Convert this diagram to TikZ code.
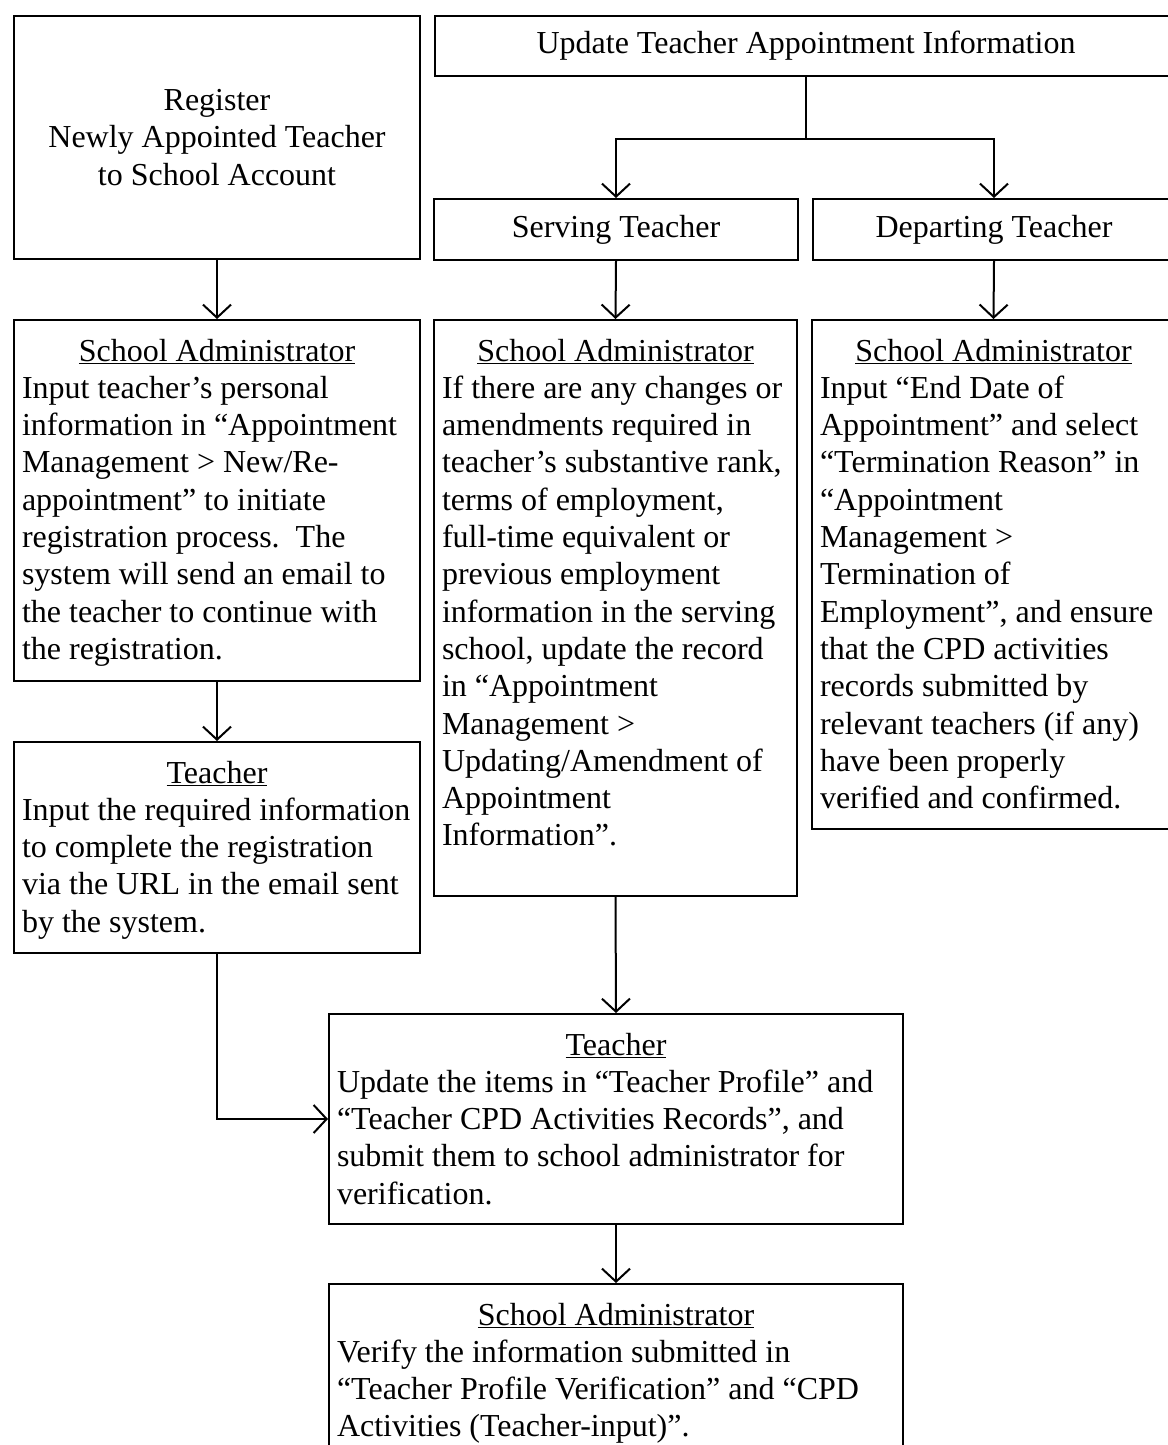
\documentclass[tikz,border=0pt]{standalone}
\usepackage{fontspec}
\setmainfont{Liberation Serif}
\usetikzlibrary{arrows.meta}
\newcommand{\cardtext}[3]{\parbox[c][#2][t]{#1}{\raggedright #3}}
\newcommand{\heading}[1]{\makebox[\linewidth]{\rule{0pt}{29pt}\underline{#1}}}
\begin{document}
\begin{tikzpicture}[
    x=1pt, y=-1pt,
    every node/.style={font=\fontsize{32}{37.3}\selectfont},
    card/.style={draw, line width=2pt, anchor=north west, inner xsep=8pt, inner ysep=12pt},
    title/.style={draw, line width=2pt, anchor=north west, inner sep=0pt, align=center},
    arr/.style={line width=2pt, -{Straight Barb[length=13pt,width=28pt]}}
  ]
  \useasboundingbox (0,0) rectangle (1167,1445);
  \node[title, minimum width=406pt, minimum height=243pt] (reg) at (13,15)
    {Register\\Newly Appointed Teacher\\to School Account};
  \node[title, minimum width=742pt, minimum height=60pt] (update) at (434,15)
    {Update Teacher Appointment Information};
  \node[title, minimum width=364pt, minimum height=61pt] (serving) at (433,198)
    {Serving Teacher};
  \node[title, minimum width=362pt, minimum height=61pt] (departing) at (812,198)
    {Departing Teacher};
  \node[card] (sleft) at (13,319) {\cardtext{390pt}{337pt}{%
    \heading{School Administrator}\\
    Input teacher’s personal\\
    information in “Appointment\\
    Management > New/Re-\\
    appointment” to initiate\\
    registration process.\ \ The\\
    system will send an email to\\
    the teacher to continue with\\
    the registration.}};
  \node[card] (smid) at (433,319) {\cardtext{347pt}{552pt}{%
    \heading{School Administrator}\\
    If there are any changes or\\
    amendments required in\\
    teacher’s substantive rank,\\
    terms of employment,\\
    full-time equivalent or\\
    previous employment\\
    information in the serving\\
    school, update the record\\
    in “Appointment\\
    Management >\\
    Updating/Amendment of\\
    Appointment\\
    Information”.}};
  \node[card] (sright) at (811,319) {\cardtext{347pt}{485pt}{%
    \heading{School Administrator}\\
    Input “End Date of\\
    Appointment” and select\\
    “Termination Reason” in\\
    “Appointment\\
    Management >\\
    Termination of\\
    Employment”, and ensure\\
    that the CPD activities\\
    records submitted by\\
    relevant teachers (if any)\\
    have been properly\\
    verified and confirmed.}};
  \node[card] (tleft) at (13,741) {\cardtext{390pt}{187pt}{%
    \heading{Teacher}\\
    Input the required information\\
    to complete the registration\\
    via the URL in the email sent\\
    by the system.}};
  \node[card] (tbottom) at (328,1013) {\cardtext{558pt}{186pt}{%
    \heading{Teacher}\\
    Update the items in “Teacher Profile” and\\
    “Teacher CPD Activities Records”, and\\
    submit them to school administrator for\\
    verification.}};
  \node[card] (sbottom) at (328,1283) {\cardtext{558pt}{153pt}{%
    \heading{School Administrator}\\
    Verify the information submitted in\\
    “Teacher Profile Verification” and “CPD\\
    Activities (Teacher-input)”.}};
  \draw[arr] (reg.south) -- (sleft.north);
  \draw[line width=2pt] (update.south) -- ++(0,62) coordinate (fork);
  \draw[arr] (fork) -| (serving.north);
  \draw[arr] (fork) -| (departing.north);
  \draw[arr] (serving.south) -- (smid.north);
  \draw[arr] (departing.south) -- (sright.north);
  \draw[arr] (sleft.south) -- (tleft.north);
  \draw[arr] (smid.south) -- (tbottom.north);
  \draw[arr] (tleft.south) |- (tbottom.west);
  \draw[arr] (tbottom.south) -- (sbottom.north);
\end{tikzpicture}
\end{document}
